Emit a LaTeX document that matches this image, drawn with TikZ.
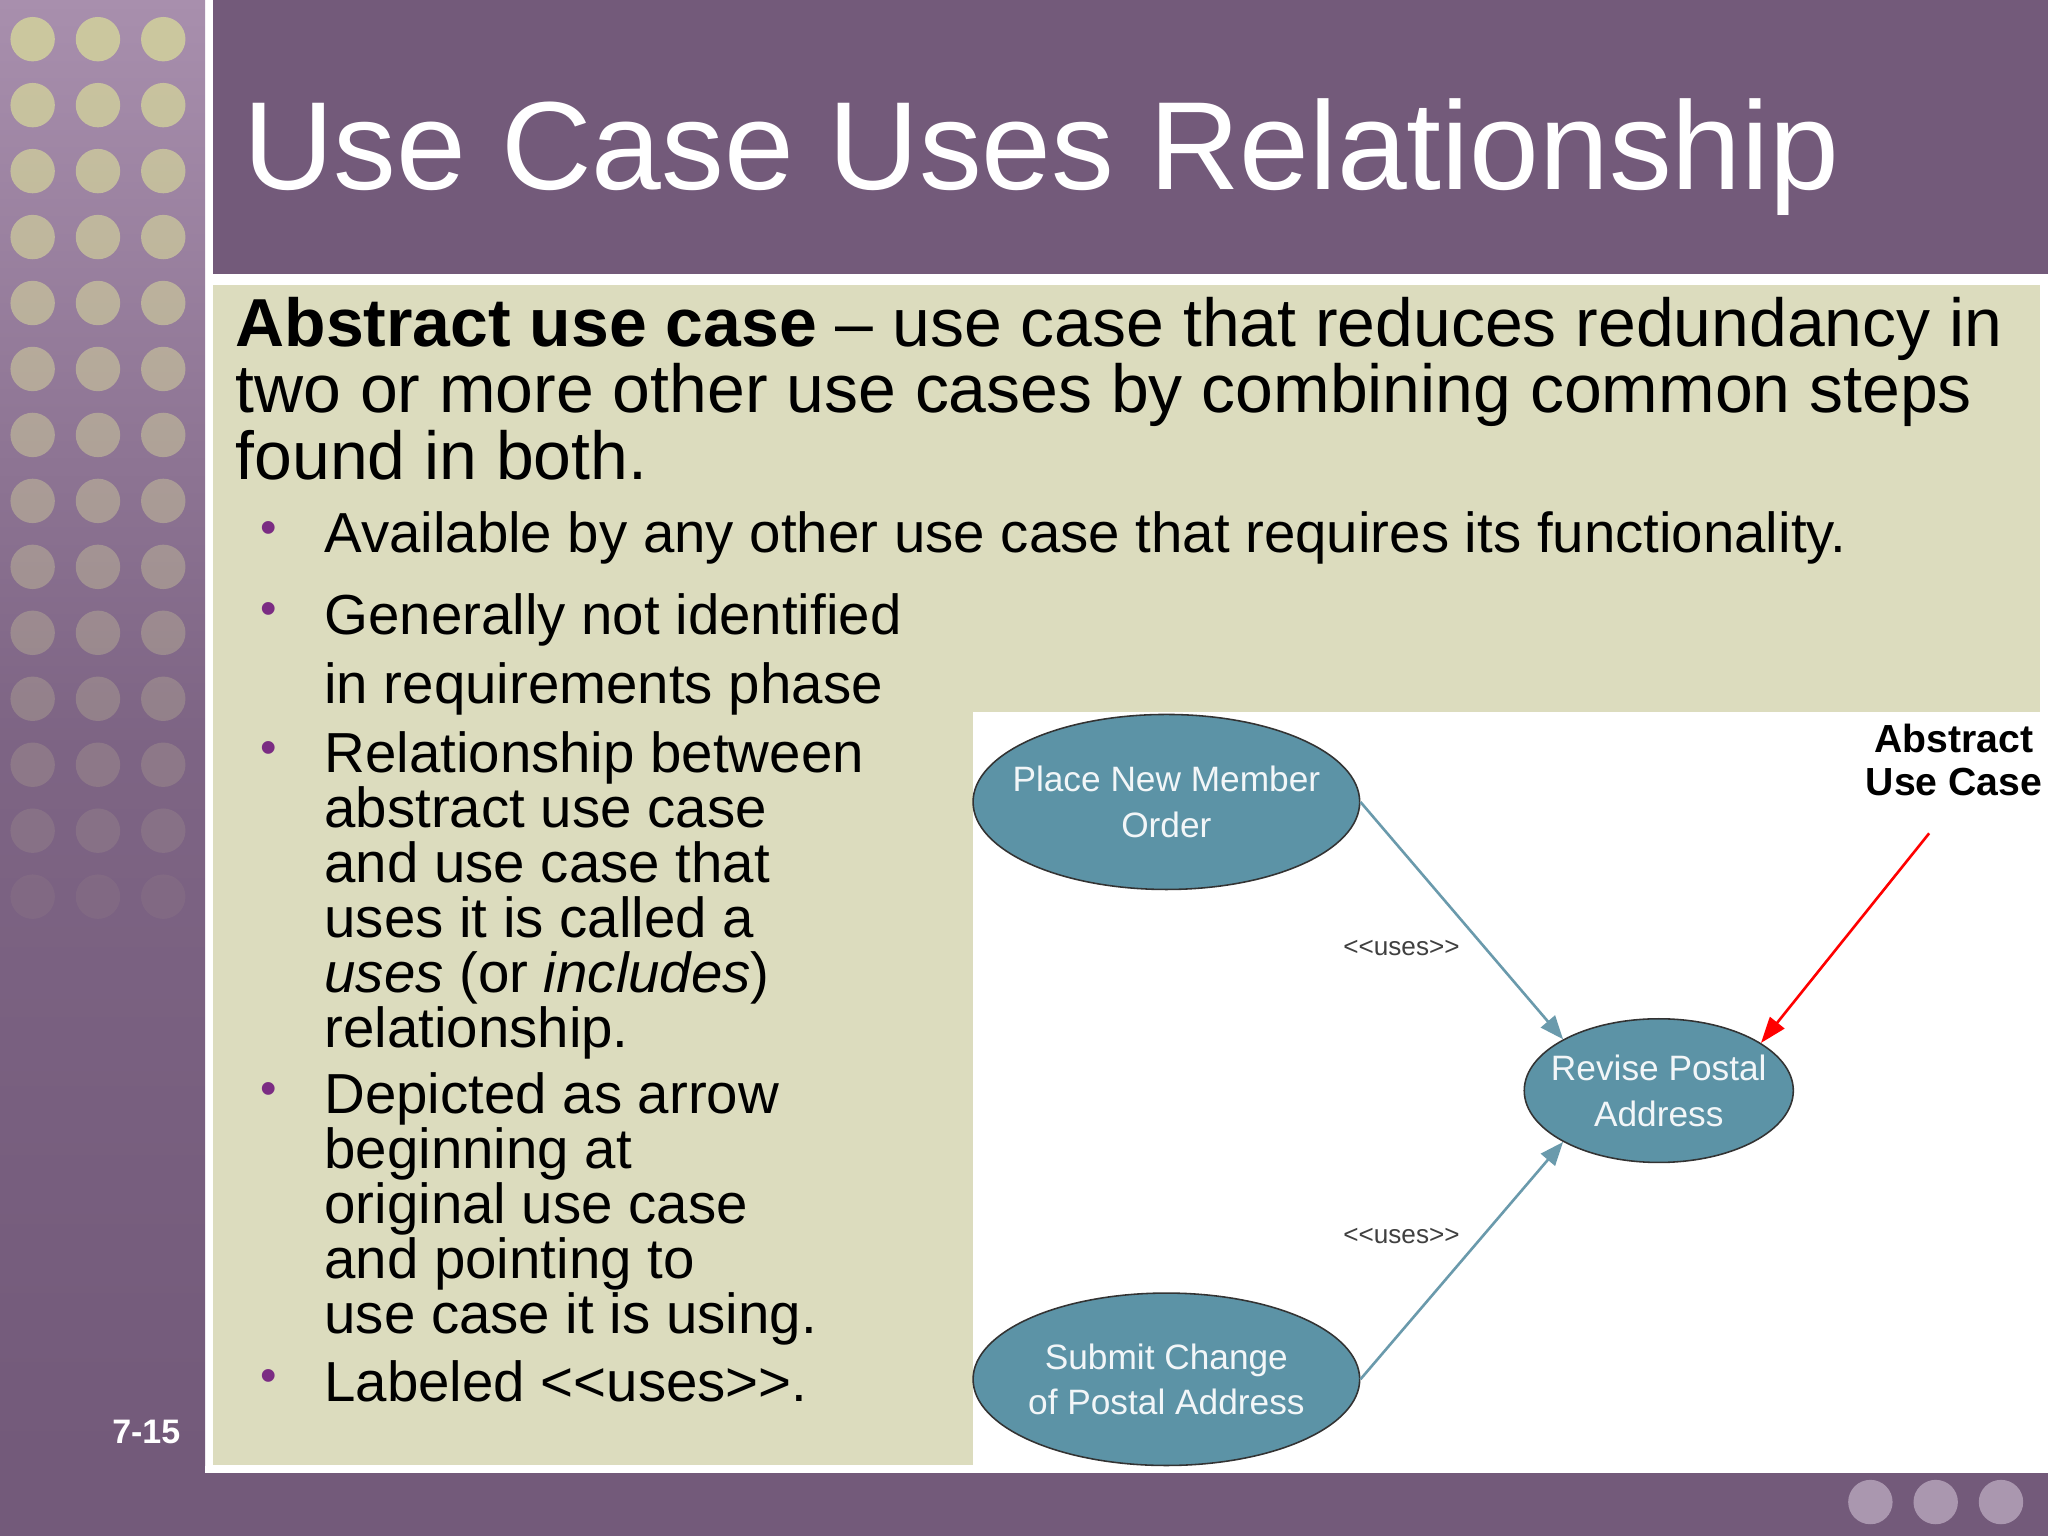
\documentclass[tikz,border=0pt]{standalone}
\usepackage{fontspec}
\setmainfont{Liberation Sans}
\usetikzlibrary{arrows.meta,shapes.geometric}
\definecolor{purp}{HTML}{735A7A}
\definecolor{purpl}{HTML}{A88FAD}
\definecolor{beige}{HTML}{DCDCBE}
\definecolor{dot}{HTML}{D2D29C}
\definecolor{uc}{HTML}{5C93A6}
\definecolor{ucline}{HTML}{6A9AAC}
\definecolor{bul}{HTML}{7B2C83}
\begin{document}
\begin{tikzpicture}[x=0.5pt,y=-0.5pt,
  usecase/.style={ellipse,draw=black!80,fill=uc,line width=0.6pt,inner sep=0pt},
  uctext/.style={text=white!92!uc,font=\fontsize{13.5}{17.5}\selectfont,align=center,inner sep=0pt},
  uses/.style={draw=ucline,line width=1pt,-{Triangle[length=9pt,width=7pt]}},
  btxt/.style={anchor=north west,font=\fontsize{21.6}{21}\selectfont,align=left,inner sep=0pt},
  bdot/.style={text=bul,font=\fontsize{18}{18}\selectfont,inner sep=0pt}]
\useasboundingbox (0,0) rectangle (1568,1176);
\fill[white] (0,0) rectangle (1568,1176);
\shade[top color=purpl,bottom color=purp,middle color=purp!80!purpl] (0,0) rectangle (157,1122);
\fill[purp] (0,1122) rectangle (157,1128);
\foreach \r [count=\i from 0] in {0,...,13}{
  \pgfmathsetmacro{\op}{max(0.05,0.85-\i*0.06)}
  \foreach \c in {25,75,125}
   \fill[dot,opacity=\op] (\c,{30+\i*50.5}) circle (17);}
\fill[purp] (163,0) rectangle (1568,210);
\node[anchor=west,text=white,font=\fontsize{48}{50}\selectfont,inner sep=0pt] (title) at (186,120) {Use Case Uses Relationship};
\fill[beige] (163,218) rectangle (1562,1122);
\fill[white] (745,545) rectangle (1568,1122);
\fill[purp] (0,1128) rectangle (1568,1176);
\foreach \c in {1432,1482,1532} \fill[purpl!70!white,opacity=0.7] (\c,1150) circle (17);
\node[text=white,font=\bfseries\fontsize{13}{13}\selectfont] (pg) at (112,1096) {7-15};
\node[anchor=north west,inner sep=0pt,font=\fontsize{26}{25.5}\selectfont,align=left] (abs) at (180,227)
 {\textbf{Abstract use case} – use case that reduces redundancy in\\two or more other use cases by combining common steps\\found in both.};
\node[bdot] (b1) at (206,408) {•};
\node[btxt] (t1) at (248,391) {Available by any other use case that requires its functionality.};
\node[bdot] (b2) at (206,470) {•};
\node[btxt,font=\fontsize{21.6}{26.5}\selectfont] (t2) at (248,454) {Generally not identified\\in requirements phase};
\node[bdot] (b3) at (206,576) {•};
\node[btxt] (t3) at (248,560) {Relationship between\\abstract use case\\and use case that\\uses it is called a\\\textit{uses} (or \textit{includes})\\relationship.};
\node[bdot] (b4) at (206,837) {•};
\node[btxt] (t4) at (248,821) {Depicted as arrow\\beginning at\\original use case\\and pointing to\\use case it is using.};
\node[bdot] (b5) at (206,1057) {•};
\node[btxt] (t5) at (248,1041) {Labeled <{}<uses>{}>.};
\node[usecase,minimum width=148pt,minimum height=67pt] (pn) at (893,614) {};
\node[uctext] (pnt) at (893,614) {Place New Member\\Order};
\node[usecase,minimum width=103pt,minimum height=55pt] (rp) at (1270,835) {};
\node[uctext] (rpt) at (1270,835) {Revise Postal\\Address};
\node[usecase,minimum width=148pt,minimum height=66pt] (sc) at (893,1056) {};
\node[uctext] (sct) at (893,1056) {Submit Change\\of Postal Address};
\draw[uses] (pn.east) -- (rp.north west);
\draw[uses] (sc.east) -- (rp.south west);
\node[font=\fontsize{10}{10}\selectfont,text=black!75] (l1) at (1073,726) {<{}<uses>{}>};
\node[font=\fontsize{10}{10}\selectfont,text=black!75] (l2) at (1073,946) {<{}<uses>{}>};
\node[font=\bfseries\fontsize{15}{16.5}\selectfont,align=center,inner sep=0pt] (ab) at (1496,582) {Abstract\\Use Case};
\coordinate (rs) at (1477,638);
\draw[red,line width=1pt,-{Triangle[length=10pt,width=7pt]}] (rs) -- (rp.25);
\end{tikzpicture}
\end{document}
